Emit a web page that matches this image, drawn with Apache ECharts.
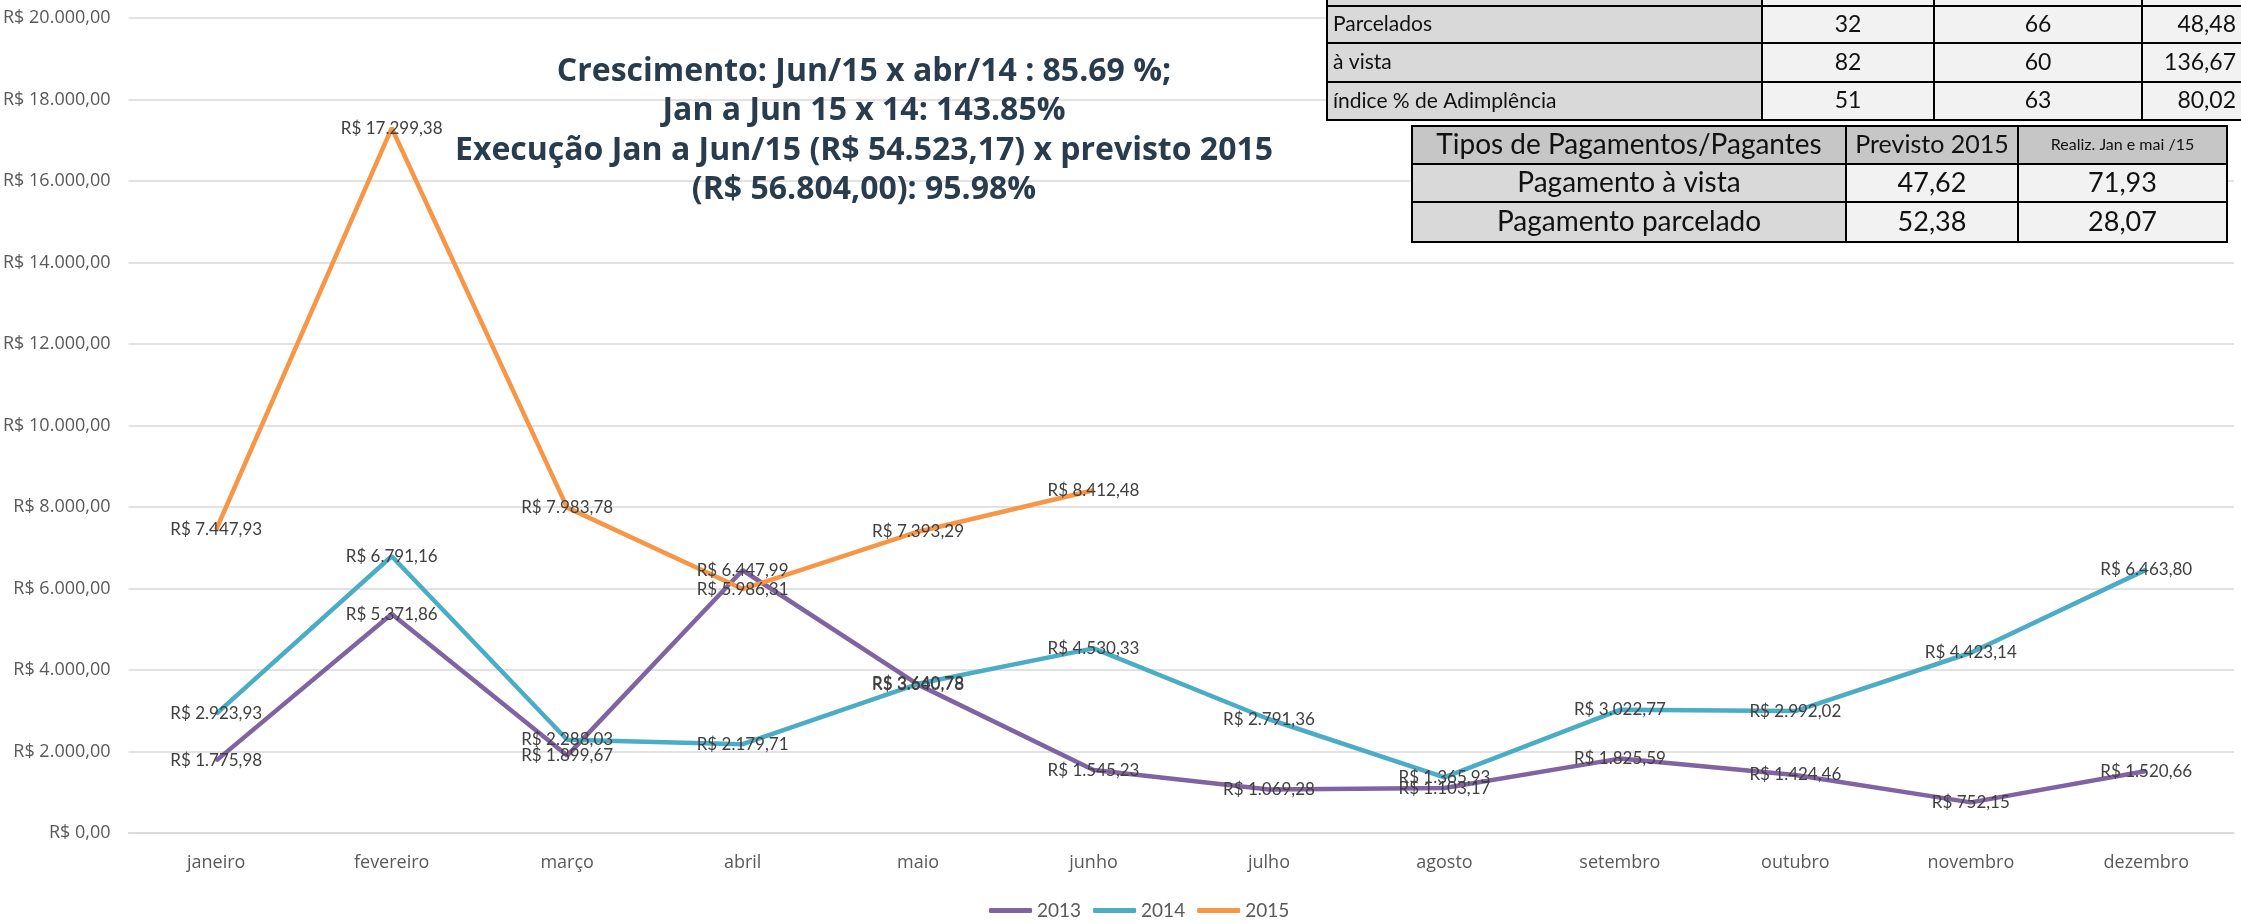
<!DOCTYPE html>
<html>
<head>
<meta charset="utf-8">
<script src="https://cdn.jsdelivr.net/npm/echarts@6/dist/echarts.min.js"></script>
<style>
  html, body { margin: 0; padding: 0; background: #fff; }
  #chart { width: 2241px; height: 923px; }
</style>
</head>
<body>
<div id="chart"></div>
<script>
// dados do gráfico
const months = ['janeiro', 'fevereiro', 'março', 'abril', 'maio', 'junho', 'julho', 'agosto', 'setembro', 'outubro', 'novembro', 'dezembro']
const vals2013 = [1775.98, 5371.86, 1899.67, 6447.99, 3640.78, 1545.23, 1069.28, 1103.17, 1825.59, 1424.46, 752.15, 1520.66]
const vals2014 = [2923.93, 6791.16, 2288.03, 2179.71, 3660.78, 4530.33, 2791.36, 1365.93, 3022.77, 2992.02, 4423.14, 6463.80]
const vals2015 = [7447.93, 17299.38, 7983.78, 5986.31, 7393.29, 8412.48]
const yTicks = [0, 2000, 4000, 6000, 8000, 10000, 12000, 14000, 16000, 18000, 20000]

const titleLines = [
    'Crescimento: Jun/15 x abr/14 : 85.69 %;',
    'Jan a Jun 15 x 14: 143.85%',
    'Execução Jan a Jun/15 (R$ 54.523,17) x previsto 2015',
    '(R$ 56.804,00): 95.98%'
]

// tabelas
const paymentRows = [
    ['', '', '', ''],
    ['Parcelados', '32', '66', '48,48'],
    ['à vista', '82', '60', '136,67'],
    ['índice % de Adimplência', '51', '63', '80,02']
]
const typeHeader = ['Tipos de Pagamentos/Pagantes', 'Previsto 2015', 'Realiz. Jan e mai /15']
const typeRows = [
    ['Pagamento à vista', '47,62', '71,93'],
    ['Pagamento parcelado', '52,38', '28,07']
]

function brl(v) {
    const parts = v.toFixed(2).split('.')
    const int = parts[0].replace(/\B(?=(\d{3})+(?!\d))/g, '.')
    return 'R$ ' + int + ',' + parts[1]
}

const colors = { 2013: '#8064a2', 2014: '#4bacc6', 2015: '#f79646' }

function lineSeries(name, data) {
    return {
        name: name,
        type: 'line',
        data: data,
        symbol: 'circle',
        symbolSize: 2,
        itemStyle: { color: colors[name] },
        lineStyle: { color: colors[name], width: 4.5 },
        label: {
            show: true,
            position: 'inside',
            formatter: p => brl(p.value),
            fontFamily: 'Lato',
            fontSize: 17,
            color: '#404040'
        },
        z: 3
    }
}

// montar as tabelas como elementos gráficos
function buildTable(colX, rowY, rows, fills, fonts, aligns) {
    const els = []
    rows.forEach((row, r) => {
        row.forEach((txt, c) => {
            const x0 = colX[c], x1 = colX[c + 1]
            const y0 = rowY[r], y1 = rowY[r + 1]
            els.push({
                type: 'rect',
                shape: { x: x0, y: y0, width: x1 - x0, height: y1 - y0 },
                style: { fill: fills(r, c), stroke: '#000', lineWidth: 2 },
                z: 100
            })
            if (txt) {
                const a = aligns(r, c)
                let tx = (x0 + x1) / 2
                if (a === 'left') tx = x0 + 6
                if (a === 'right') tx = x1 - 6
                els.push({
                    type: 'text',
                    x: tx,
                    y: (y0 + y1) / 2,
                    style: {
                        text: txt,
                        align: a,
                        verticalAlign: 'middle',
                        fontFamily: 'Lato',
                        fontSize: fonts(r, c),
                        fill: '#111'
                    },
                    z: 101
                })
            }
        })
    })
    return els
}

const table1 = buildTable(
    [1327, 1762, 1934, 2142, 2242],
    [-32, 6, 43, 82, 120],
    paymentRows,
    (r, c) => c === 0 ? '#d9d9d9' : '#f2f2f2',
    (r, c) => c === 0 ? 21 : 23,
    (r, c) => c === 0 ? 'left' : (c === 3 ? 'right' : 'center')
)

const table2 = buildTable(
    [1412, 1846, 2018, 2227],
    [126, 164, 202, 242],
    [typeHeader].concat(typeRows),
    (r, c) => r === 0 ? '#c6c6c6' : (c === 0 ? '#d9d9d9' : '#f2f2f2'),
    (r, c) => c === 0 ? 28 : (r === 0 ? (c === 2 ? 16 : 25) : 27),
    () => 'center'
)

const chart = echarts.init(document.getElementById('chart'))

const option = {
    backgroundColor: '#fff',
    animation: false,
    grid: { left: 128, right: 7, top: 18, bottom: 90 },
    legend: {
        data: ['2013', '2014', '2015'],
        left: 984,
        top: 896,
        icon: 'roundRect',
        itemWidth: 43,
        itemHeight: 5,
        itemGap: 12,
        textStyle: { fontFamily: 'Lato', fontSize: 19, color: '#595959' }
    },
    xAxis: {
        type: 'category',
        data: months,
        boundaryGap: true,
        axisLine: { show: true, lineStyle: { color: '#d9d9d9', width: 1.5 } },
        axisTick: { show: false },
        axisLabel: { margin: 21, fontFamily: 'Open Sans', fontSize: 18, color: '#595959' }
    },
    yAxis: {
        type: 'value',
        min: yTicks[0],
        max: yTicks[yTicks.length - 1],
        interval: 2000,
        axisLine: { show: false },
        axisTick: { show: false },
        splitLine: { lineStyle: { color: '#d9d9d9', width: 1.5 } },
        axisLabel: {
            margin: 18,
            formatter: v => brl(v),
            fontFamily: 'Open Sans',
            fontSize: 18,
            color: '#595959'
        }
    },
    series: [
        lineSeries('2013', vals2013),
        lineSeries('2014', vals2014),
        lineSeries('2015', vals2015)
    ],
    graphic: [
        {
            type: 'text',
            x: 864,
            y: 52,
            style: {
                text: titleLines.join('\n'),
                align: 'center',
                verticalAlign: 'top',
                fontFamily: 'Open Sans',
                fontWeight: 'bold',
                fontSize: 32,
                lineHeight: 39.5,
                fill: '#283c4e'
            },
            z: 50
        }
    ].concat(table1, table2)
}

chart.setOption(option)
</script>
</body>
</html>
